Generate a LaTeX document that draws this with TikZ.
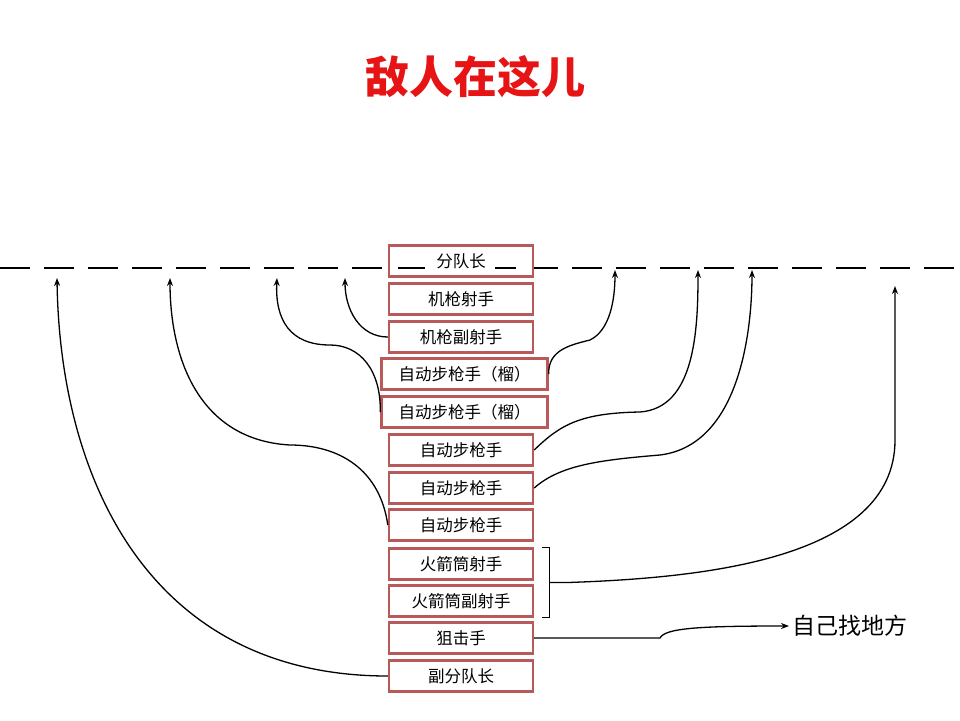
\documentclass[tikz,border=0pt]{standalone}
\usepackage{fontspec}
\newfontfamily\cjk{Noto Sans CJK SC}
\usetikzlibrary{arrows.meta,calc}
\definecolor{bx}{RGB}{185,90,90}
\definecolor{tred}{RGB}{230,20,20}
\begin{document}
\begin{tikzpicture}[x=1pt,y=-1pt,
  role/.style={draw=bx,line width=2.4pt,fill=white,minimum height=31pt,inner sep=0pt,font=\cjk\fontsize{16.5}{16.5}\selectfont},
  nb/.style={role,minimum width=144pt},
  wb/.style={role,minimum width=166pt},
  conn/.style={black,line width=1.3pt,-{Stealth[length=8pt,width=6pt]}}]
\useasboundingbox (0,0) rectangle (960,720);
\node[font=\cjk\bfseries\fontsize{44}{44}\selectfont,text=tred] (title) at (475,77) {敌人在这儿};
\draw[line width=2.8pt,dash pattern=on 30pt off 14pt] (0,268) -- (955,268);
\node[nb] (b1) at (461,261) {分队长};
\node[nb] (b2) at (461,299) {机枪射手};
\node[nb] (b3) at (461,337) {机枪副射手};
\node[wb] (b4) at (464.5,374) {自动步枪手（榴）};
\node[wb] (b5) at (464.5,412) {自动步枪手（榴）};
\node[nb] (b6) at (461,450) {自动步枪手};
\node[nb] (b7) at (461,488) {自动步枪手};
\node[nb] (b8) at (461,525) {自动步枪手};
\node[nb] (b9) at (461,564) {火箭筒射手};
\node[nb] (b10) at (461,601) {火箭筒副射手};
\node[nb] (b11) at (461,638) {狙击手};
\node[nb] (b12) at (461,676) {副分队长};
\draw[line width=2.8pt] (398,268) -- (425,268) (495,268) -- (516,268);
\node[font=\cjk\fontsize{23}{23}\selectfont,anchor=west] (self) at (789,626) {自己找地方};
\coordinate (t1) at (57,278);
\coordinate (t2) at (170,278);
\coordinate (t3) at (277,278);
\coordinate (t4) at (345,278);
\coordinate (t5) at (615,270);
\coordinate (t6) at (698,270);
\coordinate (t7) at (752,270);
\coordinate (t8) at (895,286);
\draw[conn] (b12.west) .. controls (150,676) and (60,480) .. (t1);
\draw[conn] (b8.west) .. controls (380,470) and (340,445) .. (290,445) .. controls (200,440) and (170,360) .. (t2);
\draw[conn] (b5.west) .. controls (381,370) and (360,345) .. (330,345) .. controls (290,345) and (275,320) .. (t3);
\draw[conn] (b3.west) .. controls (360,337) and (345,310) .. (t4);
\draw[conn] (b4.east) .. controls (548,350) and (570,345) .. (590,340) .. controls (610,330) and (615,300) .. (t5);
\draw[conn] (b6.east) .. controls (560,425) and (580,413) .. (640,412) .. controls (695,408) and (698,330) .. (t6);
\draw[conn] (b7.east) .. controls (560,465) and (600,460) .. (660,455) .. controls (740,445) and (752,330) .. (t7);
\draw[line width=1.4pt] ([xshift=8pt]b9.north east) -- ++(7,0) -- ([xshift=15pt]b10.south east) -- ++(-7,0);
\coordinate (br) at ($([xshift=15pt]b9.north east)!0.5!([xshift=15pt]b10.south east)$);
\draw[conn] (br) -- (568,582.5) .. controls (700,578) and (895,560) .. (895,440) -- (t8);
\draw[conn] (b11.east) -- (660,638) .. controls (665,628) and (700,626) .. (self.west);
\end{tikzpicture}
\end{document}
